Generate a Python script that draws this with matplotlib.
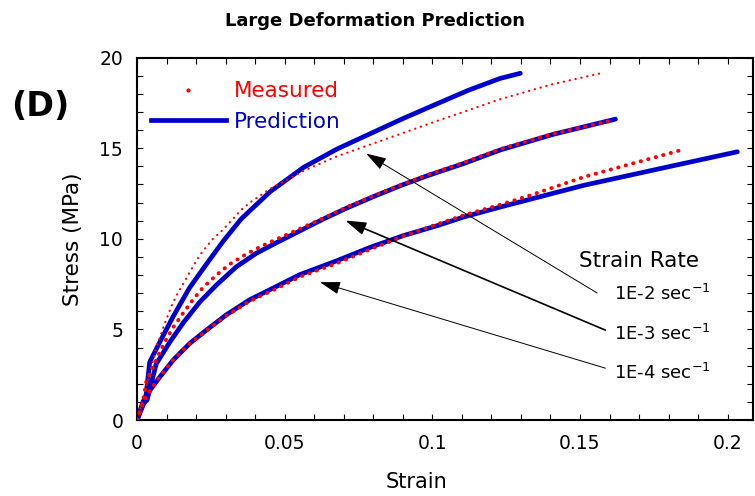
import matplotlib
matplotlib.use('Agg')
import matplotlib.pyplot as plt
from matplotlib.lines import Line2D
from matplotlib.ticker import MultipleLocator

# Prediction curves (blue)
pred_2_strain = [0, 0.002, 0.003, 0.0043, 0.0077, 0.0122, 0.0178, 0.0235, 0.0291, 0.0353, 0.0451,
                 0.0564, 0.0677, 0.079, 0.0903, 0.1016, 0.1123, 0.123, 0.1298]
pred_2_stress = [0, 1.0, 1.3, 3.2, 4.3, 5.7, 7.3, 8.6, 9.85, 11.1, 12.6,
                 13.94, 14.95, 15.8, 16.65, 17.45, 18.2, 18.85, 19.13]

pred_3_strain = [0, 0.002, 0.0034, 0.0065, 0.0111, 0.0156, 0.0212, 0.0269, 0.0336, 0.0404, 0.0472,
                 0.0551, 0.0626, 0.0711, 0.0804, 0.0892, 0.098, 0.1106, 0.123, 0.1411, 0.162]
pred_3_stress = [0, 0.9, 1.1, 3.1, 4.3, 5.35, 6.5, 7.45, 8.45, 9.2, 9.78,
                 10.43, 11.05, 11.7, 12.35, 12.93, 13.46, 14.15, 14.9, 15.77, 16.6]

pred_4_strain = [0, 0.002, 0.0043, 0.0077, 0.0122, 0.0178, 0.0235, 0.0302, 0.0381, 0.0472, 0.0551,
                 0.0677, 0.079, 0.0903, 0.1016, 0.1106, 0.123, 0.1513, 0.1796, 0.2033]
pred_4_stress = [0, 0.8, 1.63, 2.37, 3.3, 4.22, 4.96, 5.8, 6.63, 7.37, 8.02,
                 8.79, 9.53, 10.18, 10.72, 11.2, 11.75, 12.95, 13.96, 14.8]

# Measured curves (red dots)
meas_2_strain = [0, 0.002, 0.0043, 0.0065, 0.0094, 0.0116, 0.0133, 0.0193, 0.0214, 0.0255, 0.0291,
                 0.0353, 0.0387, 0.0449, 0.0564, 0.0677, 0.079, 0.0903, 0.1016, 0.1123, 0.123, 0.14, 0.157]
meas_2_stress = [0, 1.2, 2.56, 4.0, 5.33, 6.26, 6.85, 8.57, 9.13, 9.96, 10.5,
                 11.6, 12.05, 12.74, 13.75, 14.55, 15.2, 15.85, 16.5, 17.1, 17.7, 18.5, 19.13]

meas_3_strain = [0, 0.002, 0.0032, 0.0054, 0.0077, 0.0099, 0.0122, 0.0156, 0.019, 0.0223, 0.0269,
                 0.0314, 0.0359, 0.0404, 0.0449, 0.0551, 0.0626, 0.0711, 0.0804, 0.0892, 0.098,
                 0.1106, 0.123, 0.1411, 0.160]
meas_3_stress = [0, 1.0, 2.19, 2.9, 3.75, 4.45, 5.1, 5.9, 6.65, 7.3, 8.0,
                 8.6, 9.05, 9.45, 9.8, 10.55, 11.1, 11.75, 12.4, 12.95, 13.5,
                 14.2, 14.95, 15.8, 16.5]

meas_4_strain = [0, 0.002, 0.0043, 0.0077, 0.0122, 0.0178, 0.0235, 0.0302, 0.0381, 0.0472, 0.0551,
                 0.0677, 0.079, 0.0903, 0.1016, 0.1106, 0.1242, 0.1332, 0.1513, 0.1844]
meas_4_stress = [0, 0.9, 1.6, 2.4, 3.3, 4.2, 4.93, 5.75, 6.55, 7.25, 7.9,
                 8.65, 9.42, 10.15, 10.8, 11.3, 11.94, 12.4, 13.41, 14.9]

x_ticks = [0, 0.05, 0.1, 0.15, 0.2]
x_tick_labels = ['0', '0.05', '0.1', '0.15', '0.2']
y_ticks = [0, 5, 10, 15, 20]

rate_labels = ['1E-2 sec$^{-1}$', '1E-3 sec$^{-1}$', '1E-4 sec$^{-1}$']
rate_label_pos = [(0.1614, 6.97), (0.1614, 4.76), (0.1614, 2.62)]
arrow_tails = [(0.1558, 7.01), (0.1586, 4.96), (0.1586, 2.86)]
arrow_tips = [(0.0776, 14.70), (0.0705, 11.01), (0.062, 7.6)]

fig = plt.figure(figsize=(7.55, 4.96), dpi=100)
ax = fig.add_axes([0.1815, 0.1532, 0.8159, 0.7308])

blue = '#0000cc'
for sx, sy in [(pred_2_strain, pred_2_stress), (pred_3_strain, pred_3_stress), (pred_4_strain, pred_4_stress)]:
    ax.plot(sx, sy, color=blue, lw=3.4, solid_capstyle='round', solid_joinstyle='round', zorder=2)

ax.plot(meas_2_strain, meas_2_stress, color='red', lw=1.6, linestyle=(0, (0.1, 2.6)),
        dash_capstyle='round', zorder=3)
for sx, sy in [(meas_3_strain, meas_3_stress), (meas_4_strain, meas_4_stress)]:
    ax.plot(sx, sy, color='red', lw=2.8, linestyle=(0, (0.1, 1.9)),
            dash_capstyle='round', zorder=3)

ax.set_xlim(0, 0.2086)
ax.set_ylim(0, 20)
ax.set_xticks(x_ticks)
ax.set_xticklabels(x_tick_labels)
ax.set_yticks(y_ticks)
ax.xaxis.set_minor_locator(MultipleLocator(0.01))
ax.yaxis.set_minor_locator(MultipleLocator(1))
ax.tick_params(which='both', direction='in', top=True, right=True, length=4, width=0.8)
ax.tick_params(axis='x', labelsize=13.5, pad=10)
ax.tick_params(axis='y', labelsize=13.5, pad=10)
for sp in ax.spines.values():
    sp.set_linewidth(1.5)

ax.set_xlabel('Strain', fontsize=15)
ax.xaxis.set_label_coords(0.454, -0.143)
ax.set_ylabel('Stress (MPa)', fontsize=15.5)
ax.yaxis.set_label_coords(-0.088, 0.5)

handles = [Line2D([], [], color='red', marker='.', markersize=4, linestyle='none'),
           Line2D([], [], color=blue, lw=3.4)]
ax.legend(handles, ['Measured', 'Prediction'], loc='upper left', bbox_to_anchor=(0.022, 0.935),
          frameon=False, fontsize=15.5, labelcolor=['red', blue], handlelength=3.5,
          handletextpad=0.35, labelspacing=0.5, borderpad=0, borderaxespad=0)

ax.text(0.1701, 8.76, 'Strain Rate', fontsize=15.5, ha='center', va='center')
for lab, pos in zip(rate_labels, rate_label_pos):
    ax.text(pos[0], pos[1], lab, fontsize=13, ha='left', va='center')
for i, (tail, tip) in enumerate(zip(arrow_tails, arrow_tips)):
    ax.annotate('', xy=tip, xytext=tail,
                arrowprops=dict(arrowstyle='-|>,head_length=0.7,head_width=0.22',
                                color='black', lw=1.2 if i == 1 else 0.7,
                                mutation_scale=18, shrinkA=0, shrinkB=0))

fig.text(375 / 755, 1 - 21 / 496, 'Large Deformation Prediction', fontsize=13,
         fontweight='bold', ha='center', va='center')
fig.text(40 / 755, 1 - 106 / 496, '(D)', fontsize=24, fontweight='bold', ha='center', va='center')

fig.savefig('out.png', dpi=100)
